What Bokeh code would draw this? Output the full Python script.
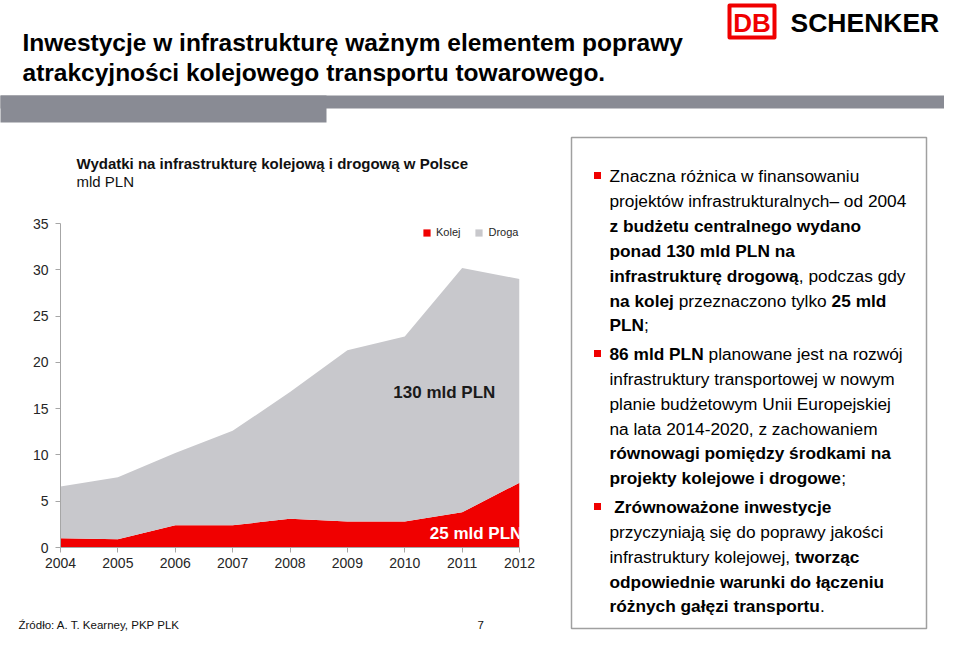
from bokeh.plotting import figure
from bokeh.models import Range1d, ColumnDataSource, FixedTicker
from bokeh.layouts import column, row
from bokeh.core.properties import value
from bokeh.embed import file_html
from bokeh.resources import INLINE

# ---------------- data ----------------
years = [2004, 2005, 2006, 2007, 2008, 2009, 2010, 2011, 2012]
kolej = [1.0, 0.9, 2.4, 2.4, 3.1, 2.8, 2.8, 3.8, 7.0]
droga = [5.6, 6.7, 7.8, 10.2, 13.7, 18.5, 20.0, 26.4, 22.0]
series_names = ["Kolej", "Droga"]
y_ticks = [0, 5, 10, 15, 20, 25, 30, 35]
x_ticks = years

FONT = "Liberation Sans"
RED = "#f00000"
GREY = "#c8c8cc"
BAR = "#898b94"

# Helvetica/Arial advance widths (1/1000 em)
_lo = "abcdefghijklmnopqrstuvwxyz"
_up = "ABCDEFGHIJKLMNOPQRSTUVWXYZ"
REG = dict(zip(_lo, [556,556,500,556,556,278,556,556,222,222,500,222,833,556,556,556,556,333,500,278,556,500,722,500,500,500]))
REG.update(zip(_up, [667,667,722,722,667,611,778,722,278,500,667,556,833,722,778,667,778,722,667,611,722,667,944,667,667,611]))
REG.update({" ": 278, ",": 278, ".": 278, "-": 333, ";": 278, ":": 278, "–": 556})
BOLD = dict(zip(_lo, [556,611,556,611,556,333,611,611,278,278,556,278,889,611,611,611,611,389,556,333,611,556,778,556,556,500]))
BOLD.update(zip(_up, [722,722,722,722,667,611,778,722,278,556,722,611,833,722,778,667,778,722,667,611,722,667,944,667,667,611]))
BOLD.update({" ": 278, ",": 278, ".": 278, "-": 333, ";": 333, ":": 333, "–": 556})
for d in (REG, BOLD):
    d.update({str(i): 556 for i in range(10)})
PL = {"ż": "z", "ź": "z", "ó": "o", "ę": "e", "ą": "a", "ś": "s", "ł": "l", "ć": "c", "ń": "n", "Ź": "Z", "Ż": "Z"}


def tw(s, bold, size):
    t = BOLD if bold else REG
    return sum(t.get(PL.get(c, c), 556) for c in s) * size / 1000.0


def canvas_fig(w, h):
    f = figure(width=w, height=h, x_range=Range1d(0, w), y_range=Range1d(h, 0),
               x_axis_type=None, y_axis_type=None, output_backend="svg",
               toolbar_location=None, min_border=0, outline_line_color=None,
               background_fill_color="white", border_fill_color="white")
    return f


def put_runs(f, lines, x0, size, color="#000000", font=FONT):
    d = {b: dict(x=[], y=[], t=[]) for b in (False, True)}
    for y, runs in lines:
        x = x0
        for txt, b in runs:
            lead = len(txt) - len(txt.lstrip(" "))
            core = txt.strip(" ")
            if core:
                d[b]["x"].append(x + tw(" " * lead, b, size))
                d[b]["y"].append(y)
                d[b]["t"].append(core)
            x += tw(txt, b, size)
    for b in (False, True):
        if d[b]["t"]:
            f.text(x="x", y="y", text="t", source=ColumnDataSource(d[b]),
                   text_font=value(font), text_font_size=f"{size}px",
                   text_font_style="bold" if b else "normal",
                   text_baseline="middle", text_align="left", text_color=color)


# ---------------- header (page y 0..123) ----------------
header = canvas_fig(944, 123)
header.quad(left=[-10], right=[960], top=[95], bottom=[108], fill_color=BAR, line_color=None)
header.quad(left=[-10], right=[326], top=[95], bottom=[122], fill_color=BAR, line_color=None)
header.text(x=[22, 22], y=[42, 72],
            text=["Inwestycje w infrastrukturę ważnym elementem poprawy",
                  "atrakcyjności kolejowego transportu towarowego."],
            text_font=value(FONT), text_font_size="24.5px", text_font_style="bold",
            text_baseline="middle", text_color="#000000")
header.quad(left=[729], right=[774], top=[5], bottom=[37], fill_color="white",
            line_color=RED, line_width=4, line_join="round")
header.text(x=[751.5], y=[22], text=["DB"], text_font=value(FONT), text_font_size="26px",
            text_font_style="bold", text_align="center", text_baseline="middle", text_color=RED)
header.text(x=[790], y=[22], text=["SCHENKER"], text_font=value(FONT), text_font_size="26.5px",
            text_font_style="bold", text_align="left", text_baseline="middle", text_color="#000000")

# ---------------- chart title (page y 123..200) ----------------
ctitle = canvas_fig(568, 77)
put_runs(ctitle, [(40, [("Wydatki na infrastrukturę kolejową i drogową w Polsce", True)]),
                  (58, [("mld PLN", False)])], 76, 15, "#111111")

# ---------------- chart (page y 200..585) ----------------
src = ColumnDataSource(dict(year=years, Kolej=kolej, Droga=droga))
chart = figure(width=568, height=385, x_range=Range1d(years[0], years[-1]),
               y_range=Range1d(y_ticks[0], y_ticks[-1]), output_backend="svg",
               toolbar_location=None, min_border_left=60, min_border_right=49,
               min_border_top=23, min_border_bottom=38, outline_line_color=None,
               background_fill_color="white", border_fill_color="white")
chart.varea_stack(series_names, x="year", color=[RED, GREY], source=src,
                  legend_label=series_names)
chart.grid.visible = False
for ax in (chart.xaxis[0], chart.yaxis[0]):
    ax.axis_line_color = "#a6a6a6"
    ax.major_tick_line_color = "#a6a6a6"
    ax.major_tick_out = 5
    ax.major_tick_in = 0
    ax.minor_tick_line_color = None
    ax.major_label_text_font = FONT
    ax.major_label_text_font_size = "14px"
    ax.major_label_text_color = "#262626"
chart.xaxis.ticker = FixedTicker(ticks=x_ticks)
chart.yaxis.ticker = FixedTicker(ticks=y_ticks)
chart.yaxis.major_label_standoff = 7
chart.xaxis.major_label_standoff = 5

chart.text(x=[2010.69], y=[16.74], text=["130 mld PLN"], text_font=value(FONT),
           text_font_size="17px", text_font_style="bold", text_align="center",
           text_baseline="middle", text_color="#1a1a1a")
chart.text(x=[2012.05], y=[1.5], text=["25 mld PLN"], text_font=value(FONT),
           text_font_size="17px", text_font_style="bold", text_align="right",
           text_baseline="middle", text_color="white")

lg = chart.legend[0]
lg.orientation = "horizontal"
lg.location = (362, 309)
lg.background_fill_alpha = 0
lg.border_line_color = None
lg.label_text_font = FONT
lg.label_text_font_size = "11px"
lg.label_text_color = "#262626"
lg.glyph_width = 9
lg.glyph_height = 9
lg.label_height = 12
lg.label_standoff = 5
lg.spacing = 14
lg.padding = 0
lg.margin = 0

# ---------------- footer (page y 585..632) ----------------
footer = canvas_fig(568, 47)
put_runs(footer, [(39, [("Źródło: A. T. Kearney, PKP PLK", False)])], 18, 11.5, "#111111")
put_runs(footer, [(39, [("7", False)])], 477, 11.5, "#111111")

# ---------------- text box (page x 568..944, y 123..632) ----------------
box = canvas_fig(376, 509)
box.quad(left=[3], right=[358], top=[14], bottom=[505], fill_color=None,
         line_color="#a0a0a0", line_width=1.5)
S = 17.3
B, N = True, False
Y0 = 123
lines = [
    (175, [("Znaczna różnica w finansowaniu", N)]),
    (200, [("projektów infrastrukturalnych– od 2004", N)]),
    (225, [("z budżetu centralnego wydano", B)]),
    (250, [("ponad 130 mld PLN na", B)]),
    (275, [("infrastrukturę drogową", B), (", podczas gdy", N)]),
    (300, [("na kolej", B), (" przeznaczono tylko ", N), ("25 mld", B)]),
    (324, [("PLN", B), (";", N)]),
    (353, [("86 mld PLN", B), (" planowane jest na rozwój", N)]),
    (378, [("infrastruktury transportowej w nowym", N)]),
    (403, [("planie budżetowym Unii Europejskiej", N)]),
    (428, [("na lata 2014-2020, z zachowaniem", N)]),
    (452, [("równowagi pomiędzy środkami na", B)]),
    (477, [("projekty kolejowe i drogowe", B), (";", N)]),
    (506, [(" Zrównoważone inwestycje", B)]),
    (531, [("przyczyniają się do poprawy jakości", N)]),
    (556, [("infrastruktury kolejowej, ", N), ("tworząc", B)]),
    (581, [("odpowiednie warunki do łączeniu", B)]),
    (605, [("różnych gałęzi transportu", B), (".", N)]),
]
put_runs(box, [(y - Y0, r) for y, r in lines], 41, S, "#000000")
box.scatter(x=[29, 29, 29], y=[175 - Y0, 353 - Y0, 506 - Y0], marker="square", size=7,
            fill_color=RED, line_color=None)

# each figure wrapped in its own column so that frames are not aligned to each other
left = column(column(ctitle), column(chart), column(footer))
layout = column(header, row(left, column(box)))
open("out.html", "w").write(file_html(layout, INLINE))
